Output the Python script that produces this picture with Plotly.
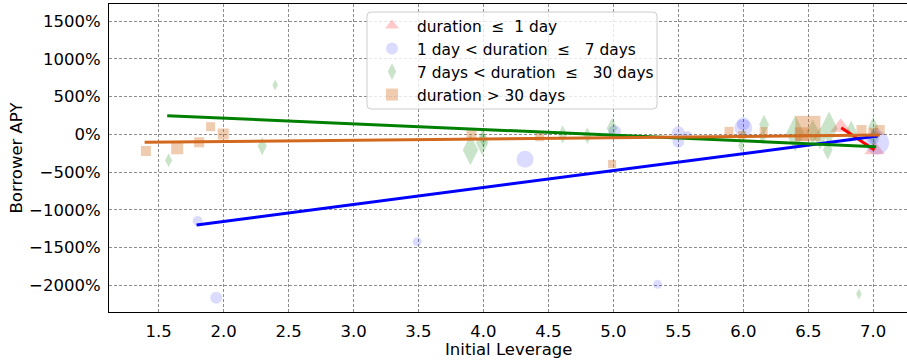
import plotly.graph_objects as go

# ---- data (y in percent) ----
short_x = [6.75, 7.01]
short_y = [95, -205]
short_s = [18, 18]

mid_x = [1.80, 1.943, 3.49, 4.32, 5.01, 5.34, 5.50, 5.50, 5.57, 6.00, 6.00, 7.03, 7.00, 7.02]
mid_y = [-1148, -2163, -1422, -331, 35, -1986, 20, -100, -15, 140, 85, -110, -60, 20]
mid_s = [10, 12, 9, 17, 13, 9, 13, 12, 9, 13, 18, 24, 12, 10]

long_x = [1.577, 2.297, 2.397, 3.90, 3.99, 4.00, 4.61, 4.80, 4.99, 5.985, 6.00, 6.16, 6.15,
          6.40, 6.535, 6.59, 6.66, 6.65, 6.83, 7.00, 7.00, 6.89]
long_y = [-344, -155, 653, -207, -111, -60, 0, -18, 79, -150, 0, 130, -40,
          10, 30, -53, 79, -208, 35, 100, -50, -2114]
long_s = [10, 13, 8, 22, 18, 12, 13, 12, 15, 9, 8, 14, 10,
          26, 18, 16, 24, 14, 16, 14, 12, 8]

vlong_x = [1.402, 1.643, 1.812, 1.90, 1.997, 3.908, 4.433, 4.99, 5.89, 5.99, 6.157,
           6.497, 6.45, 6.91, 7.05, 7.00]
vlong_y = [-221, -185, -106, 101, 4, 0, -32, -393, 40, -10, 44,
           79, 0, 57, 57, 20]
vlong_s = [10, 12, 10, 9, 11, 10, 9, 8, 9, 8, 8,
           25, 14, 10, 10, 10]

# regression line endpoints
fit_short_x, fit_short_y = [6.754, 7.01], [87, -208]
fit_mid_x, fit_mid_y = [1.792, 7.035], [-1201, -23]
fit_long_x, fit_long_y = [1.566, 7.023], [246, -164]
fit_vlong_x, fit_vlong_y = [1.392, 7.05], [-106, -9]

y_ticks = [-2000, -1500, -1000, -500, 0, 500, 1000, 1500]
y_tick_text = ["\u22122000%", "\u22121500%", "\u22121000%", "\u2212500%", "0%", "500%", "1000%", "1500%"]
x_ticks = [1.5, 2.0, 2.5, 3.0, 3.5, 4.0, 4.5, 5.0, 5.5, 6.0, 6.5, 7.0]
x_tick_text = ["1.5", "2.0", "2.5", "3.0", "3.5", "4.0", "4.5", "5.0", "5.5", "6.0", "6.5", "7.0"]

labels = [
    "duration\u00a0 \u2264\u00a0 1 day",
    "1 day < duration\u00a0 \u2264\u00a0\u00a0 7 days",
    "7 days < duration\u00a0 \u2264\u00a0\u00a0 30 days",
    "duration > 30 days",
]

FONT = "DejaVu Sans"
FS = 16.5
LFS = 15.4

fig = go.Figure()

fig.add_trace(go.Scatter(x=short_x, y=short_y, mode="markers", name=labels[0],
                         marker=dict(symbol="triangle-up", size=short_s, color="rgba(255,0,0,0.3)",
                                     line=dict(width=0))))
fig.add_trace(go.Scatter(x=mid_x, y=mid_y, mode="markers", name=labels[1],
                         marker=dict(symbol="circle", size=mid_s, color="rgba(0,0,255,0.2)",
                                     line=dict(width=0))))
fig.add_trace(go.Scatter(x=long_x, y=long_y, mode="markers", name=labels[2],
                         marker=dict(symbol="diamond-tall", size=long_s, color="rgba(0,128,0,0.3)",
                                     line=dict(width=0))))
fig.add_trace(go.Scatter(x=vlong_x, y=vlong_y, mode="markers", name=labels[3],
                         marker=dict(symbol="square", size=vlong_s, color="rgba(210,105,30,0.5)",
                                     line=dict(width=0))))

for fx, fy, col in [(fit_short_x, fit_short_y, "red"),
                    (fit_mid_x, fit_mid_y, "blue"),
                    (fit_long_x, fit_long_y, "green"),
                    (fit_vlong_x, fit_vlong_y, "chocolate")]:
    fig.add_trace(go.Scatter(x=fx, y=fy, mode="lines", showlegend=False,
                             line=dict(color=col, width=3), hoverinfo="skip"))

grid = dict(showgrid=True, gridcolor="rgb(140,140,140)", gridwidth=1, griddash="3px,2px")

fig.update_xaxes(range=[1.118, 7.26], tickvals=x_ticks, ticktext=x_tick_text,
                 showline=True, linecolor="black", linewidth=1.2, mirror=True,
                 ticks="outside", ticklen=4, tickcolor="rgba(0,0,0,0)",
                 zeroline=False,
                 tickfont=dict(family=FONT, size=FS, color="black"), **grid)
fig.update_yaxes(range=[-2352, 1725], tickvals=y_ticks, ticktext=y_tick_text,
                 showline=True, linecolor="black", linewidth=1.2, mirror=True,
                 ticks="outside", ticklen=4, tickcolor="rgba(0,0,0,0)",
                 zeroline=False,
                 title=dict(text="Borrower APY", font=dict(family=FONT, size=FS, color="black"),
                            standoff=2),
                 tickfont=dict(family=FONT, size=FS, color="black"), **grid)

# legend frame (drawn as a shape so its size matches the reference)
W, H = 798.0, 308.0
x0, x1 = (367 - 109) / W, (657 - 109) / W
y0, y1 = (312 - 109) / H, (312 - 12) / H
rx, ry = 4 / W, 4 / H
frame_path = (f"M {x0+rx},{y1} L {x1-rx},{y1} Q {x1},{y1} {x1},{y1-ry} "
              f"L {x1},{y0+ry} Q {x1},{y0} {x1-rx},{y0} L {x0+rx},{y0} "
              f"Q {x0},{y0} {x0},{y0+ry} L {x0},{y1-ry} Q {x0},{y1} {x0+rx},{y1} Z")

fig.update_layout(
    width=907, height=360,
    margin=dict(l=109, r=0, t=4, b=48, autoexpand=False),
    paper_bgcolor="white", plot_bgcolor="white",
    font=dict(family=FONT, size=FS, color="black"),
    shapes=[dict(type="path", xref="paper", yref="paper", path=frame_path,
                 fillcolor="rgba(255,255,255,0.8)", line=dict(color="rgb(204,204,204)", width=1),
                 layer="above")],
    annotations=[dict(text="Initial Leverage", xref="paper", yref="paper",
                      x=0.5, y=(312 - 349) / H, xanchor="center", yanchor="middle",
                      showarrow=False, font=dict(family=FONT, size=FS, color="black"))],
    legend=dict(x=(367 - 109) / W, y=(312 - 9) / H, xanchor="left", yanchor="top",
                bgcolor="rgba(0,0,0,0)", borderwidth=0,
                itemsizing="constant", itemwidth=40,
                font=dict(family=FONT, size=LFS, color="black"),
                tracegroupgap=0),
    showlegend=True,
)

fig.write_html("out.html", config={"displayModeBar": False},
               post_script="document.body.style.margin='0';document.body.style.overflow='hidden';")
